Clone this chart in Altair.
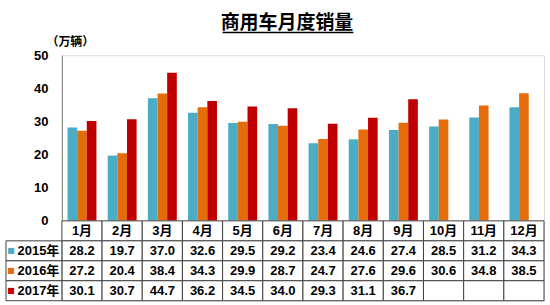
import altair as alt
import pandas as pd

months = ["1月", "2月", "3月", "4月", "5月", "6月", "7月", "8月", "9月", "10月", "11月", "12月"]
years = ["2015年", "2016年", "2017年"]
s2015 = [28.2, 19.7, 37.0, 32.6, 29.5, 29.2, 23.4, 24.6, 27.4, 28.5, 31.2, 34.3]
s2016 = [27.2, 20.4, 38.4, 34.3, 29.9, 28.7, 24.7, 27.6, 29.6, 30.6, 34.8, 38.5]
s2017 = [30.1, 30.7, 44.7, 36.2, 34.5, 34.0, 29.3, 31.1, 36.7]
colors = ["#4BACC6", "#E46C0A", "#C00000"]
y_ticks = [0, 10, 20, 30, 40, 50]
title_text = "商用车月度销量"
unit_text = "（万辆）"
header_key = "月份"

series = {"2015年": s2015, "2016年": s2016, "2017年": s2017}
rows = []
for yr in years:
    for m, v in zip(months, series[yr]):
        rows.append({"month": m, "year": yr, "value": v})
df = pd.DataFrame(rows)

FONT = "Liberation Sans, Arial, Noto Sans CJK SC, sans-serif"
CJK = "Noto Sans CJK SC"

# ---------- bar chart ----------
bars = alt.Chart(df).mark_bar().encode(
    x=alt.X("month:N", sort=months, axis=None,
            scale=alt.Scale(domain=months, paddingInner=0.28, paddingOuter=0.14)),
    xOffset=alt.XOffset("year:N", sort=years, scale=alt.Scale(domain=years, paddingInner=0, paddingOuter=0)),
    y=alt.Y("value:Q",
            scale=alt.Scale(domain=[0, 50], nice=False),
            axis=alt.Axis(values=y_ticks, grid=False, ticks=False, title=unit_text,
                          titleAngle=0, titleX=8, titleY=-14, titleAlign="center",
                          titleBaseline="middle", titleFont=CJK, titleFontSize=12,
                          titleFontWeight="bold", titleColor="black",
                          labelFont=FONT, labelFontSize=13, labelFontWeight="bold",
                          labelColor="black", labelPadding=14,
                          domainColor="#808080")),
    color=alt.Color("year:N", sort=years, legend=None,
                    scale=alt.Scale(domain=years, range=colors)),
)

# underline of the title
underline = alt.Chart(pd.DataFrame({"a": [0]})).mark_rect(color="black", opacity=1).encode(
    x=alt.value(161), x2=alt.value(292), y=alt.value(-23.5), y2=alt.value(-22)
)

top = alt.layer(bars, underline).properties(width=483, height=166)

# ---------- table ----------
row_domain = [header_key] + years
cells = pd.DataFrame([{"month": m, "row": r} for m in months for r in row_domain])
texts = [{"month": m, "row": header_key, "label": m} for m in months]
for _, r in df.iterrows():
    texts.append({"month": r["month"], "row": r["year"], "label": f"{r['value']:.1f}"})
texts = pd.DataFrame(texts)

xs = alt.X("month:N", sort=months, axis=None,
           scale=alt.Scale(domain=months, paddingInner=0, paddingOuter=0))
ys = alt.Y("row:N", sort=row_domain, axis=None,
           scale=alt.Scale(domain=row_domain, paddingInner=0, paddingOuter=0))

grid = alt.Chart(cells).mark_rect(fill="white", stroke="#404040", strokeWidth=1).encode(x=xs, y=ys)
vals = alt.Chart(texts).mark_text(font=FONT, fontSize=13, fontWeight="bold",
                                  color="black", baseline="middle").encode(
    x=xs, y=ys, text="label:N")

# legend column, drawn to the left of the table (same overhang as the y axis above)
leg = pd.DataFrame({"col": ["k"] * 3, "row": years})
lx = alt.X("col:N", axis=None, scale=alt.Scale(range=[-56, 0], paddingInner=0, paddingOuter=0))
leg_grid = alt.Chart(leg).mark_rect(fill="white", stroke="#404040", strokeWidth=1).encode(x=lx, y=ys)
leg_sq = alt.Chart(leg).mark_text(text="■", font="DejaVu Sans", fontSize=8, dx=-23,
                                  align="center", baseline="middle").encode(
    x=lx, y=ys,
    color=alt.Color("row:N", sort=years, legend=None, scale=alt.Scale(domain=years, range=colors)))
leg_lab = alt.Chart(leg).mark_text(font=FONT, fontSize=13, fontWeight="bold", color="black",
                                   dx=4.5, align="center", baseline="middle").encode(
    x=lx, y=ys, text="row:N")
legcol = alt.layer(leg_grid, leg_sq, leg_lab)

table = alt.layer(alt.layer(grid, vals), legcol).resolve_scale(x="independent").properties(
    width=483, height=80)

chart = alt.vconcat(top, table, spacing=0, bounds="flush").properties(
    title=alt.TitleParams(title_text, font=CJK, fontSize=19, fontWeight="bold",
                          color="black", anchor="middle", dx=12, offset=-2),
    padding={"left": 5, "top": 14, "right": 5, "bottom": 1},
).configure_view(stroke=None).configure(background="white")

chart.save("out.html", embed_options={"renderer": "svg", "actions": False})
